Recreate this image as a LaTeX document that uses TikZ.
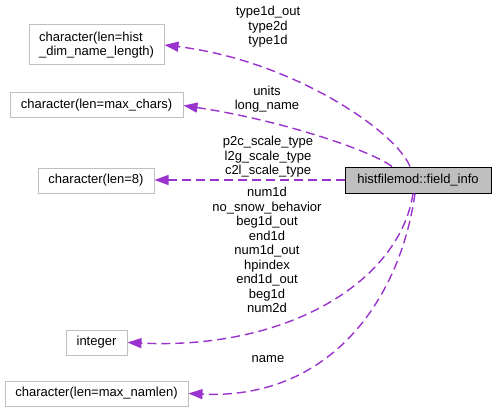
\documentclass[tikz,border=0pt]{standalone}
\usepackage{fontspec}
\setmainfont{Liberation Sans}
\usepackage{tikz}
\usetikzlibrary{shapes,arrows.meta}
\usepackage{color}
\definecolor{edgepurple}{HTML}{9A32CD}
\definecolor{boxgray}{HTML}{BFBFBF}

\begin{document}
\begin{tikzpicture}[x=1pt,y=-1pt,
member/.style={draw=edgepurple,line width=1.4pt,dash pattern=on 9pt off 5pt,
  -{Triangle[length=14pt,width=10pt,fill=edgepurple]}},
label/.style={align=center,inner sep=0pt}]
\tikzstyle{every node}=[font=\fontsize{13}{14.5}\selectfont]
\tikzstyle{typebox}=[draw=boxgray,line width=1pt,inner sep=0pt,minimum height=25pt]

\useasboundingbox (0,0) rectangle (496,412);

\node[draw=black,fill=boxgray,line width=1pt,inner sep=0pt,minimum width=146pt,minimum height=26pt] (FieldInfo) at (418,180) {histfilemod::field\_info};

\node[typebox,align=left,minimum width=135pt,minimum height=40pt] (CharHist) at (96.5,45) {character(len=hist\\\_dim\_name\_length)};
\node[typebox,minimum width=173pt] (CharMax) at (96.5,105.5) {character(len=max\_chars)};
\node[typebox,minimum width=116pt] (CharEight) at (96,180.5) {character(len=8)};
\node[typebox,minimum width=61pt] (Int) at (96.5,342.5) {integer};
\node[typebox,minimum width=183pt] (CharNam) at (96.5,393.5) {character(len=max\_namlen)};

\draw[member] ([xshift=-8pt]FieldInfo.north) .. controls (395,130) and (290,60) .. (CharHist.east);
\draw[member] ([xshift=-26pt]FieldInfo.north) .. controls (370,150) and (280,120) .. (CharMax.east);
\draw[member] (FieldInfo.west) -- (CharEight.east |- FieldInfo.west);
\draw[member] ([xshift=-5pt]FieldInfo.south) .. controls (400,280) and (290,350) .. (Int.east);
\draw[member] ([xshift=-3pt]FieldInfo.south) .. controls (400,300) and (330,400) .. (CharNam.east);

\node[label] (LabHist) at (268,27) {type1d\_out\\type2d\\type1d};
\node[label] (LabMax) at (267,99) {units\\long\_name};
\node[label] (LabEight) at (268,157) {p2c\_scale\_type\\l2g\_scale\_type\\c2l\_scale\_type};
\node[label] (LabInt) at (267,250) {num1d\\no\_snow\_behavior\\beg1d\_out\\end1d\\num1d\_out\\hpindex\\end1d\_out\\beg1d\\num2d};
\node[label] (LabNam) at (268,359) {name};

\end{tikzpicture}
\end{document}
